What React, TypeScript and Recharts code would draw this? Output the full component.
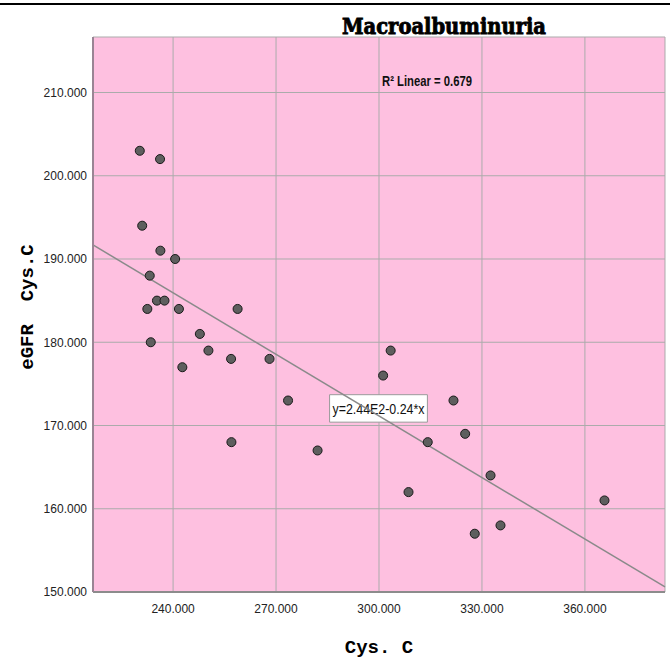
import {
  ScatterChart, Scatter, XAxis, YAxis, ZAxis, CartesianGrid,
  ReferenceLine, ReferenceArea,
} from "recharts";

// Cys. C vs eGFR Cys.C, macroalbuminuria group
const cysC = [
  230.3, 236.2, 231.0, 236.3, 240.6, 233.2, 235.3, 237.5, 232.5, 241.7,
  258.8, 233.5, 247.8, 250.3, 256.9, 268.1, 242.7, 257.0, 273.5, 282.1,
  303.4, 301.2, 321.7, 325.1, 314.2, 332.5, 308.6, 365.7, 335.4, 327.9,
];
const egfrCysC = [
  203, 202, 194, 191, 190, 188, 185, 185, 184, 184,
  184, 180, 181, 179, 178, 178, 177, 168, 173, 167,
  179, 176, 173, 169, 168, 164, 162, 161, 158, 157,
];

const xTicks = [240, 270, 300, 330, 360];
const yTicks = [150, 160, 170, 180, 190, 200, 210];
const X_DOMAIN: [number, number] = [216.667, 383.333];
const Y_DOMAIN: [number, number] = [150, 216.667];

// fitted line as drawn (label rounds it to 2.44E2-0.24*x)
const FIT_INTERCEPT = 245.1;
const FIT_SLOPE = -0.2465;
const R2_TEXT = "R\u00b2 Linear = 0.679";
const EQ_TEXT = "y=2.44E2-0.24*x";

const points = cysC.map((x, i) => ({ x, y: egfrCysC[i] }));
const fitSegment = X_DOMAIN.map((x) => ({ x, y: FIT_INTERCEPT + FIT_SLOPE * x }));

const W = 670;
const H = 664;
const PINK = "#fec0e0";
const tickFont = { fontSize: 12, fill: "#222", fontFamily: "Liberation Sans, Arial, sans-serif" };
const monoBold = "Liberation Mono, Courier New, monospace";

function EqLabel(props: any) {
  const vb = props.viewBox || {};
  return (
    <text
      x={vb.x + vb.width / 2}
      y={vb.y + vb.height / 2 + 1}
      textAnchor="middle"
      dominantBaseline="central"
      fontSize={14}
      fontFamily="Liberation Sans Narrow, Liberation Sans, Arial, sans-serif"
      fill="#111"
      textLength={92}
      lengthAdjust="spacingAndGlyphs"
    >
      {EQ_TEXT}
    </text>
  );
}

export default function App() {
  return (
    <div style={{ position: "relative", width: W, height: H, background: "#fff" }}>
      <style>{"body{margin:0}"}</style>
      <ScatterChart width={W} height={H} margin={{ top: 37, right: 5, bottom: 0, left: 0 }}>
        <CartesianGrid stroke="#ababab" strokeWidth={1} fill={PINK} fillOpacity={1} />
        <XAxis
          type="number"
          dataKey="x"
          domain={X_DOMAIN}
          ticks={xTicks}
          allowDataOverflow
          height={72}
          tickLine={false}
          tickSize={0}
          tickMargin={12}
          tick={tickFont}
          tickFormatter={(v: number) => v.toFixed(3)}
          axisLine={{ stroke: "#8c8c8c", strokeWidth: 2 }}
        />
        <YAxis
          type="number"
          dataKey="y"
          domain={Y_DOMAIN}
          ticks={yTicks}
          allowDataOverflow
          width={93}
          tickLine={false}
          tickSize={0}
          tickMargin={6}
          tick={tickFont}
          tickFormatter={(v: number) => v.toFixed(3)}
          axisLine={{ stroke: "#9a8494", strokeWidth: 2 }}
        />
        <ZAxis range={[68, 68]} />
        <ReferenceLine segment={fitSegment} stroke="#8a8a8a" strokeWidth={1.5} />
        <Scatter
          data={points}
          fill="#5e5e5e"
          stroke="#1a1a1a"
          strokeWidth={1}
          isAnimationActive={false}
        />
        <ReferenceArea
          x1={285.6}
          x2={314.1}
          y1={170.4}
          y2={173.7}
          fill="#ffffff"
          fillOpacity={1}
          stroke="#9a9a9a"
          strokeWidth={1}
          label={<EqLabel />}
        />
      </ScatterChart>
      <svg
        width={W}
        height={H}
        style={{ position: "absolute", left: 0, top: 0, pointerEvents: "none" }}
      >
        <line x1={0} y1={4} x2={W} y2={4} stroke="#000" strokeWidth={2} />
        <text
          x={444}
          y={34}
          textAnchor="middle"
          fontFamily="DejaVu Serif, serif"
          fontWeight="bold"
          fontSize={22}
          textLength={204}
          lengthAdjust="spacingAndGlyphs"
          fill="#000"
          stroke="#000"
          strokeWidth={0.9}
        >
          Macroalbuminuria
        </text>
        <text
          x={382}
          y={86}
          fontFamily="Liberation Sans Narrow, Liberation Sans, Arial, sans-serif"
          fontWeight="bold"
          fontSize={14}
          textLength={90}
          lengthAdjust="spacingAndGlyphs"
          fill="#111"
        >
          {R2_TEXT}
        </text>
        <text
          x={28}
          y={307}
          transform="rotate(-90 28 307)"
          textAnchor="middle"
          dominantBaseline="central"
          fontFamily={monoBold}
          fontWeight="bold"
          fontSize={19}
          style={{ whiteSpace: "pre" }}
          fill="#000"
        >
          {"eGFR  Cys.C"}
        </text>
        <text
          x={379}
          y={653}
          textAnchor="middle"
          fontFamily={monoBold}
          fontWeight="bold"
          fontSize={19}
          style={{ whiteSpace: "pre" }}
          fill="#000"
        >
          Cys. C
        </text>
      </svg>
    </div>
  );
}
